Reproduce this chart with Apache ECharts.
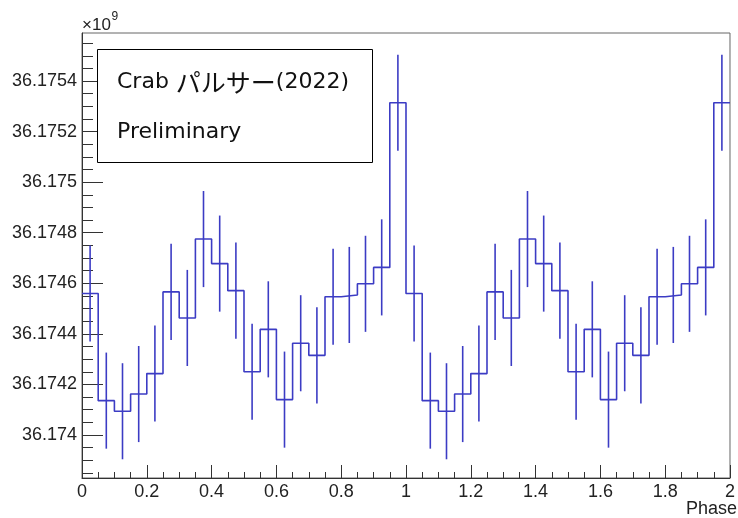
<!DOCTYPE html>
<html>
<head>
<meta charset="utf-8">
<script src="https://cdn.jsdelivr.net/npm/echarts@6/dist/echarts.min.js"></script>
<style>
    html, body { margin: 0; padding: 0; background: #fff; }
    #echartPhase { width: 738px; height: 518px; }
</style>
</head>
<body>
<div id="echartPhase"></div>
<script>
// Crab pulsar phase histogram, y values in units of 1e9
const binWidth = 0.05;
const counts = [
    36.17456, 36.174136, 36.174094, 36.174162, 36.174243, 36.174566, 36.174463, 36.174775, 36.174678, 36.174571,
    36.17425, 36.174418, 36.17414, 36.174363, 36.174315, 36.174547, 36.174554, 36.174598, 36.174663, 36.175314,
    36.17456, 36.174136, 36.174094, 36.174162, 36.174243, 36.174566, 36.174463, 36.174775, 36.174678, 36.174571,
    36.17425, 36.174418, 36.17414, 36.174363, 36.174315, 36.174547, 36.174554, 36.174598, 36.174663, 36.175314
];
const errors = [
    0.00019, 0.00019, 0.00019, 0.00019, 0.00019, 0.00019, 0.00019, 0.00019, 0.00019, 0.00019,
    0.00019, 0.00019, 0.00019, 0.00019, 0.00019, 0.00019, 0.00019, 0.00019, 0.00019, 0.00019,
    0.00019, 0.00019, 0.00019, 0.00019, 0.00019, 0.00019, 0.00019, 0.00019, 0.00019, 0.00019,
    0.00019, 0.00019, 0.00019, 0.00019, 0.00019, 0.00019, 0.00019, 0.00019, 0.00019, 0.00019
];
const yTicks = [36.174, 36.1742, 36.1744, 36.1746, 36.1748, 36.175, 36.1752, 36.1754];
const yMin = 36.17383;
const yMax = 36.17559;

// minor ticks every 0.00005 on the y axis
let yMinorTicks = [];
for (let k = -3; k <= 31; k++) {
    yMinorTicks.push(+(36.174 + k * 0.00005).toFixed(5));
}

const lineColor = '#3c3cc4';
const axisFont = 'Liberation Sans, Arial, sans-serif';

let histData = counts.map((v, i) => [+(i * binWidth).toFixed(2), v]);
histData.push([+(counts.length * binWidth).toFixed(2), counts[counts.length - 1]]);
let errData = counts.map((v, i) => [+((i + 0.5) * binWidth).toFixed(3), v - errors[i], v + errors[i]]);

let echartElem = document.getElementById('echartPhase');
let echartPhase = echarts.init(echartElem);
echartPhase.setOption({
    animation: false,
    grid: {
        left: 82, right: 1.5, top: 33, bottom: 40,
        show: true, borderColor: '#666', borderWidth: 1
    },
    xAxis: {
        type: 'value',
        min: 0, max: 2, interval: 0.2,
        axisLine: { lineStyle: { color: '#333', width: 1 } },
        axisTick: { inside: true, length: 13, lineStyle: { color: '#333' } },
        minorTick: { show: true, splitNumber: 4, length: 6, lineStyle: { color: '#333' } },
        axisLabel: { margin: 5, color: '#222', fontSize: 18, fontFamily: axisFont, showMaxLabel: true },
        splitLine: { show: false }
    },
    yAxis: [{
        type: 'value',
        min: yMin, max: yMax,
        position: 'left',
        axisLine: { show: true, lineStyle: { color: '#333', width: 1 } },
        axisTick: { inside: true, length: 21, customValues: yTicks, lineStyle: { color: '#333' } },
        axisLabel: {
            customValues: yTicks,
            margin: 5, color: '#222', fontSize: 18, fontFamily: axisFont,
            formatter: v => String(+v.toFixed(4))
        },
        splitLine: { show: false }
    }, {
        type: 'value',
        min: yMin, max: yMax,
        position: 'left',
        axisLine: { show: false },
        axisTick: { inside: true, length: 11, customValues: yMinorTicks, lineStyle: { color: '#333' } },
        axisLabel: { show: false },
        splitLine: { show: false }
    }],
    series: [{
        type: 'line',
        step: 'end',
        data: histData,
        symbol: 'none',
        lineStyle: { color: lineColor, width: 1.6 },
        z: 3
    }, {
        type: 'custom',
        data: errData,
        renderItem: function(params, api) {
            let lo = api.coord([api.value(0), api.value(1)]);
            let hi = api.coord([api.value(0), api.value(2)]);
            return {
                type: 'line',
                shape: { x1: lo[0], y1: lo[1], x2: hi[0], y2: hi[1] },
                style: { stroke: lineColor, lineWidth: 1.6 }
            };
        },
        z: 3
    }],
    graphic: [{
        type: 'text', left: 82, top: 17,
        style: { text: '×10', font: '17px ' + axisFont, fill: '#222' }
    }, {
        type: 'text', left: 111.5, top: 11,
        style: { text: '9', font: '12px ' + axisFont, fill: '#222' }
    }, {
        type: 'rect', z: 100,
        shape: { x: 97.5, y: 49.5, width: 275, height: 113 },
        style: { fill: '#fff', stroke: '#000', lineWidth: 1 }
    }, {
        type: 'text', z: 101, x: 117, y: 82,
        style: {
            text: '{a|Crab}{j|パルサー}{a|(2022)}',
            verticalAlign: 'middle',
            rich: {
                a: { fontFamily: 'DejaVu Sans', fontSize: 22, fill: '#111' },
                j: { fontFamily: 'Noto Sans CJK JP', fontSize: 25, fill: '#111', padding: [0, 0, 0, 7] }
            }
        }
    }, {
        type: 'text', z: 101, x: 117, y: 132.5,
        style: { text: 'Preliminary', font: '22px DejaVu Sans', fill: '#111', verticalAlign: 'middle' }
    }, {
        type: 'text', x: 737, y: 509.5,
        style: { text: 'Phase', font: '18px ' + axisFont, fill: '#222', align: 'right', verticalAlign: 'middle' }
    }]
});
window.addEventListener('resize', function() {
    setTimeout(() => {
        echartPhase.resize();
    }, 500);
});
</script>
</body>
</html>
